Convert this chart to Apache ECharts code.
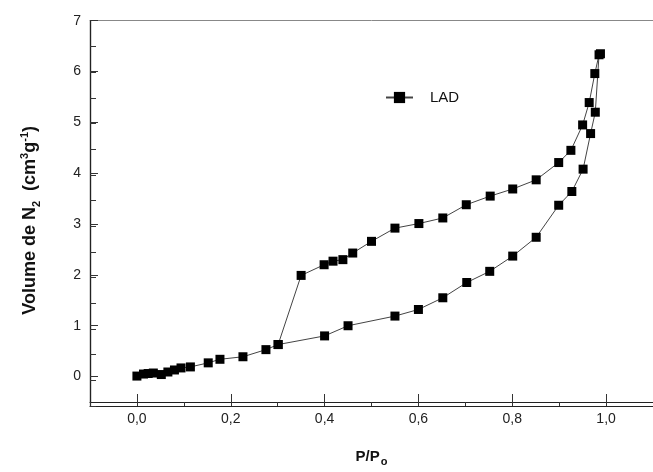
<!DOCTYPE html>
<html><head><meta charset="utf-8">
<script src="https://cdn.jsdelivr.net/npm/echarts@6/dist/echarts.min.js"></script>
<style>html,body{margin:0;padding:0;background:#fff}#c{width:653px;height:472px}</style>
</head><body><div id="c"></div>
<script>
var seriesName = 'LAD';
var adsX = [0.0, 0.014, 0.024, 0.035, 0.052, 0.066, 0.08, 0.094, 0.114, 0.152, 0.177, 0.226, 0.275, 0.301, 0.40, 0.45, 0.55, 0.60, 0.652, 0.703, 0.752, 0.801, 0.851, 0.899, 0.927, 0.951, 0.967, 0.977, 0.985];
var adsY = [0.01, 0.05, 0.06, 0.07, 0.04, 0.09, 0.13, 0.17, 0.19, 0.27, 0.34, 0.39, 0.53, 0.63, 0.80, 1.00, 1.19, 1.32, 1.55, 1.85, 2.07, 2.37, 2.74, 3.37, 3.64, 4.08, 4.78, 5.20, 6.33];
var desX = [0.988, 0.976, 0.964, 0.95, 0.925, 0.899, 0.851, 0.801, 0.753, 0.702, 0.652, 0.601, 0.55, 0.50, 0.46, 0.439, 0.418, 0.399, 0.350, 0.301];
var desY = [6.35, 5.96, 5.39, 4.95, 4.45, 4.21, 3.87, 3.69, 3.55, 3.38, 3.12, 3.01, 2.92, 2.66, 2.43, 2.30, 2.27, 2.20, 1.99, 0.63];
var xMajorTicks = [0, 0.2, 0.4, 0.6, 0.8, 1.0];
var yMajorTicks = [0, 1, 2, 3, 4, 5, 6, 7];

var data = [];
adsX.forEach(function (x, i) { data.push([x, adsY[i]]); });
desX.forEach(function (x, i) { data.push([x, desY[i]]); });

var font = '"Liberation Sans", Arial, sans-serif';
var chart = echarts.init(document.getElementById('c'));
var gridRect = { left: 90, top: 20.7, width: 571.5, height: 385.3 };
chart.setOption({
  animation: false,
  backgroundColor: '#fff',
  grid: [
    Object.assign({ containLabel: false }, gridRect),
    Object.assign({ containLabel: false }, gridRect)
  ],
  legend: {
    left: 380, top: 85,
    itemWidth: 27, itemHeight: 14,
    data: [seriesName],
    textStyle: { fontFamily: font, fontSize: 15, color: '#111', padding: [0, 0, 0, 12] }
  },
  xAxis: [
    {
      type: 'value', gridIndex: 0, position: 'bottom', min: -0.1, max: 1.1, interval: 0.1,
      splitLine: { show: false },
      axisLine: { onZero: false, lineStyle: { color: '#222', width: 1.2 } },
      axisTick: { inside: true, length: 8, customValues: xMajorTicks, lineStyle: { color: '#333' } },
      axisLabel: {
        margin: 10, fontFamily: font, fontSize: 14, color: '#222',
        customValues: xMajorTicks,
        formatter: function (v) { return v.toFixed(1).replace('.', ','); }
      },
      name: 'P/P{sub|o}', nameLocation: 'middle', nameGap: 44,
      nameTextStyle: {
        fontFamily: font, fontSize: 15, fontWeight: 'bold', color: '#111',
        rich: { sub: { fontFamily: font, fontSize: 11, fontWeight: 'bold', color: '#111', padding: [10, 0, 0, 1] } }
      }
    },
    {
      type: 'value', gridIndex: 0, position: 'top', min: -0.1, max: 1.1, interval: 0.1,
      splitLine: { show: false },
      axisLine: { onZero: false, lineStyle: { color: '#888', width: 1 } },
      axisTick: { show: false }, axisLabel: { show: false }
    },
    {
      type: 'value', gridIndex: 1, position: 'bottom', min: -0.1, max: 1.1, interval: 0.1,
      splitLine: { show: false },
      axisLine: { show: true, onZero: false, lineStyle: { color: '#222', width: 1.2 } },
      axisTick: { show: true, inside: true, length: 4, lineStyle: { color: '#333', width: 1 } },
      axisLabel: { show: false }
    }
  ],
  yAxis: [
    {
      type: 'value', gridIndex: 0, position: 'left', min: -0.5, max: 7, interval: 0.5,
      splitLine: { show: false },
      axisLine: { onZero: false, lineStyle: { color: '#222', width: 1.2 } },
      axisTick: { inside: true, length: 8, customValues: yMajorTicks, lineStyle: { color: '#333' } },
      axisLabel: {
        margin: 9, fontFamily: font, fontSize: 14, color: '#222',
        customValues: yMajorTicks,
        formatter: function (v) { return String(v); }
      },
      name: 'Volume de N{sub|2}  (cm{sup|3}g{sup|-1})', nameLocation: 'middle', nameGap: 48, nameRotate: 90,
      nameTextStyle: {
        fontFamily: font, fontSize: 18, fontWeight: 'bold', color: '#111', padding: [0, 18, 0, 0],
        rich: {
          sub: { fontFamily: font, fontSize: 11, fontWeight: 'bold', color: '#111', padding: [12, 0, 0, 0] },
          sup: { fontFamily: font, fontSize: 11, fontWeight: 'bold', color: '#111', padding: [0, 0, 12, 0] }
        }
      }
    },
    {
      type: 'value', gridIndex: 1, position: 'left', min: -0.5, max: 7, interval: 0.5,
      splitLine: { show: false },
      axisLine: { show: true, onZero: false, lineStyle: { color: '#222', width: 1.2 } },
      axisTick: { show: true, inside: true, length: 6, lineStyle: { color: '#333', width: 1 } },
      axisLabel: { show: false }
    }
  ],
  series: [
    {
      name: seriesName, type: 'line', xAxisIndex: 0, yAxisIndex: 0,
      data: data,
      symbol: 'rect', symbolSize: 9,
      itemStyle: { color: '#000' },
      lineStyle: { color: '#444', width: 1 },
      emphasis: { disabled: true }
    }
  ]
});
</script></body></html>
